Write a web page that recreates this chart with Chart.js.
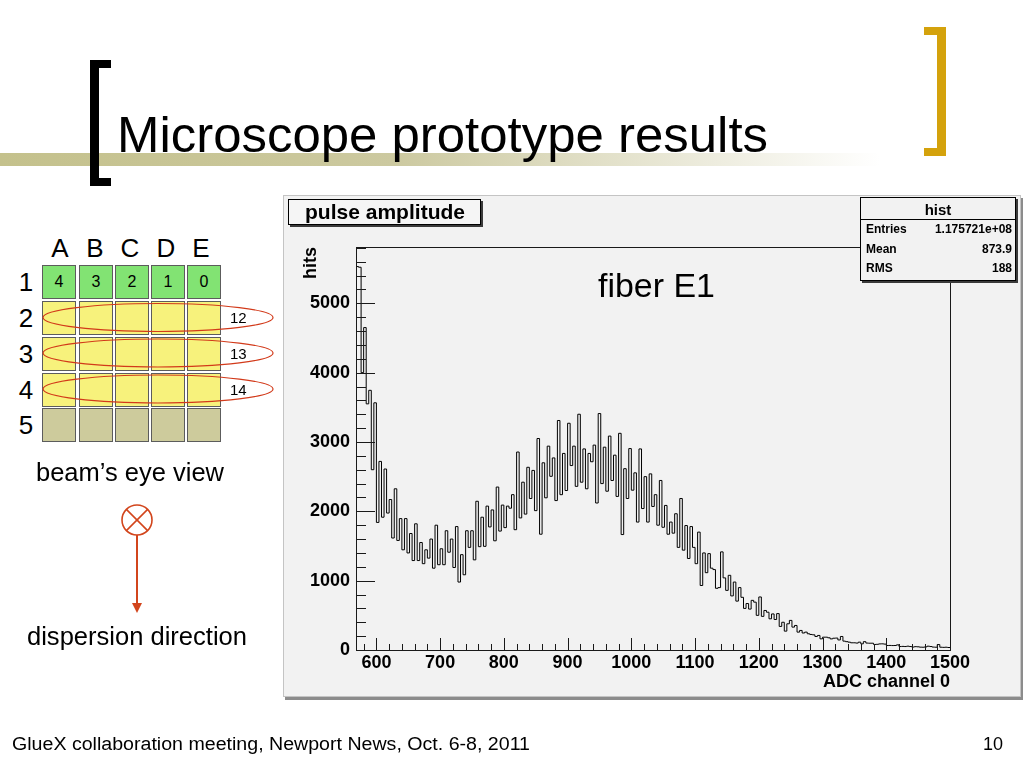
<!DOCTYPE html>
<html><head><meta charset="utf-8">
<script src="https://cdn.jsdelivr.net/npm/chart.js@4.4.0/dist/chart.umd.min.js"></script>
<style>
html,body{margin:0;padding:0;background:#fff;}
#slide{position:relative;width:1024px;height:768px;overflow:hidden;background:#fff;font-family:"Liberation Sans",Arial,sans-serif;color:#000;}
.t{position:absolute;white-space:nowrap;line-height:1;}
.r{position:absolute;}
.cell{position:absolute;width:34px;height:34px;box-sizing:border-box;border:1px solid #5c5c5c;}
#rootc{position:absolute;left:284px;top:196px;width:736px;height:500px;background:#f2f2f2;box-shadow:0 0 0 1px #c4c4c4, 2px 3px 0 1px #8c8c8c;}
#rootc canvas{position:absolute;left:0;top:0;}
</style></head><body>
<div id="slide">
  <div class="r" style="left:0;top:153px;width:880px;height:13px;background:linear-gradient(to right,#c4c18c 0%,#ccc9a0 45%,rgba(255,255,255,0) 100%);"></div>
  <div class="r" style="left:90px;top:60px;width:9px;height:126px;background:#000;"></div>
  <div class="r" style="left:90px;top:60px;width:21px;height:8px;background:#000;"></div>
  <div class="r" style="left:90px;top:178px;width:21px;height:8px;background:#000;"></div>
  <div class="r" style="left:937px;top:27px;width:9px;height:129px;background:#d4a20c;"></div>
  <div class="r" style="left:924px;top:27px;width:22px;height:8px;background:#d4a20c;"></div>
  <div class="r" style="left:924px;top:148px;width:22px;height:8px;background:#d4a20c;"></div>
  <div id="rootc"><canvas id="c" width="736" height="500"></canvas></div>
</div>
<script>
// ---- data ----
const binStart = 568;   // ADC channel of first bin's lower edge
const binWidth = 4;     // ADC channels per bin
const hits = [
5530,5520,4000,4650,3550,3745,2600,3565,1840,2720,1915,2610,1975,2170,1615,2325,1580,1895,1445,1895,
1400,1680,1290,1820,1290,1550,1245,1445,1325,1600,1180,1800,1230,1460,1230,1720,1410,1600,1190,1780,
980,1375,1085,1720,1480,1720,1300,2145,1490,1915,1495,2075,1775,2020,1575,2350,1715,2090,1765,2075,
2045,2240,1735,2855,1905,2420,1960,2635,2185,2590,2010,3050,1670,2700,2195,2940,2505,2770,2155,3310,
2240,2835,2300,3270,2660,2940,2360,3400,2420,2900,2325,2835,2715,2955,2120,3410,2400,2925,2290,3085,
2445,2810,2215,3125,1665,2615,2185,2905,2305,2555,1845,2900,2040,2500,1845,2540,2070,2240,1800,2445,
1770,2085,1670,1845,1685,1965,1480,2185,1440,1795,1320,1780,1480,1245,1700,930,1400,1115,1390,1180,
1160,890,900,1415,1040,860,1077,780,980,705,900,760,600,670,590,716,690,500,765,485,
570,545,450,520,440,525,340,400,272,378,427,330,354,258,282,245,258,234,224,219,
195,210,161,185,185,176,160,170,172,145,195,128,120,113,104,104,100,113,89,120,
100,98,98,80,82,88,89,85,65,66,64,65,74,50,52,50,55,50,42,48,
46,41,40,45,55,50,42,40,78,40,38,40,36
];
const xTickLabels = [600, 700, 800, 900, 1000, 1100, 1200, 1300, 1400, 1500];
const yTickLabels = [0, 1000, 2000, 3000, 4000, 5000];
const xMin = 568, xMax = 1500, xMajor = 100, xMinor = 20;
const yMin = 0, yMax = 5812, yMajor = 1000, yMinor = 200;
const stats = [["Entries","1.175721e+08"],["Mean","873.9"],["RMS","188"]];
const columns = ["A","B","C","D","E"];
const rows = ["1","2","3","4","5"];
const fiberNumbers = ["4","3","2","1","0"];
const rowGroups = ["12","13","14"];

// ---- slide text ----
const slide = document.getElementById('slide');
function txt(s, x, base, size, o = {}) {
  const el = document.createElement('div');
  el.className = 't'; el.textContent = s;
  el.style.fontSize = size + 'px';
  if (o.bold) el.style.fontWeight = 'bold';
  if (o.color) el.style.color = o.color;
  el.style.top = (base - 0.8465 * size) + 'px';
  slide.appendChild(el);
  const w = el.getBoundingClientRect().width;
  const sx = o.w ? o.w / w : 1;
  const ww = w * sx;
  let left = x;
  if (o.align === 'center') left = x - ww / 2;
  else if (o.align === 'right') left = x - ww;
  el.style.left = left + 'px';
  el.style.transformOrigin = '0 0';
  if (sx !== 1) el.style.transform = 'scaleX(' + sx + ')';
  return el;
}
function box(l, t, w, h, css) {
  const d = document.createElement('div');
  d.className = 'r';
  d.style.cssText += `left:${l}px;top:${t}px;width:${w}px;height:${h}px;` + css;
  slide.appendChild(d);
  return d;
}

txt('Microscope prototype results', 117, 152, 50, {w: 651});

// grid of fibers
const cx = [42, 79, 115, 151, 187];
const cy = [265, 301, 337, 373, 408];
const rowColor = ['#82e373', '#f7f27c', '#f7f27c', '#f7f27c', '#cdcb9c'];
cy.forEach((y, r) => cx.forEach((x, c) => {
  const d = document.createElement('div');
  d.className = 'cell';
  d.style.left = x + 'px'; d.style.top = y + 'px'; d.style.background = rowColor[r];
  slide.appendChild(d);
}));
const colCenters = [60, 95, 130, 166, 201];
columns.forEach((s, i) => txt(s, colCenters[i], 257, 26, {align: 'center'}));
rows.forEach((s, i) => txt(s, 26, cy[i] + 17 + 9.3, 26, {align: 'center'}));
fiberNumbers.forEach((s, i) => txt(s, cx[i] + 17, 288, 16, {align: 'center'}));

// svg decorations
const NS = 'http://www.w3.org/2000/svg';
const svg = document.createElementNS(NS, 'svg');
svg.setAttribute('width', 1024); svg.setAttribute('height', 768);
svg.style.cssText = 'position:absolute;left:0;top:0;pointer-events:none;';
function sv(tag, attrs) { const e = document.createElementNS(NS, tag); for (const k in attrs) e.setAttribute(k, attrs[k]); svg.appendChild(e); return e; }
[317.5, 353, 389].forEach(y => sv('ellipse', {cx: 158, cy: y, rx: 115, ry: 14, fill: 'none', stroke: '#d23a1a', 'stroke-width': 1.2}));
sv('circle', {cx: 137, cy: 520, r: 15, fill: 'none', stroke: '#d2451c', 'stroke-width': 1.6});
sv('line', {x1: 126.4, y1: 509.4, x2: 147.6, y2: 530.6, stroke: '#d2451c', 'stroke-width': 1.6});
sv('line', {x1: 147.6, y1: 509.4, x2: 126.4, y2: 530.6, stroke: '#d2451c', 'stroke-width': 1.6});
sv('line', {x1: 137, y1: 535, x2: 137, y2: 604, stroke: '#d2451c', 'stroke-width': 2});
sv('polygon', {points: '132,603 142,603 137,613', fill: '#d2451c'});
slide.appendChild(svg);

[317.5, 353, 389].forEach((y, i) => txt(rowGroups[i], 230, y + 5.5, 15));
txt("beam\u2019s eye view", 36, 481, 25, {w: 188});
txt('dispersion direction', 27, 645, 25, {w: 220});
txt('GlueX collaboration meeting, Newport News, Oct. 6-8, 2011', 12, 750, 18, {w: 518});
txt('10', 1003, 750, 18, {align: 'right'});

// ROOT pad overlays
box(288, 199, 193, 26, 'box-sizing:border-box;border:1px solid #000;background:#f5f5f5;box-shadow:2px 2px 0 #3a3a3a;');
txt('pulse amplitude', 384.5, 218.5, 21, {bold: true, align: 'center', w: 160});
box(860, 197, 156, 84, 'box-sizing:border-box;border:1px solid #000;background:#f2f2f2;box-shadow:2px 2px 0 #3a3a3a;');
box(860, 219, 156, 1, 'background:#000;');
txt('hist', 938, 214.5, 15, {bold: true, align: 'center'});
const statY = [233.5, 253, 272];
stats.forEach((s, i) => {
  txt(s[0], 866, statY[i], 12, {bold: true});
  txt(s[1], 1012, statY[i], 12, {bold: true, align: 'right'});
});
txt('fiber E1', 598, 297, 33, {w: 117});

// ---- chart ----
const points = hits.map((v, i) => ({x: binStart + i * binWidth, y: v}));
points.push({x: binStart + hits.length * binWidth, y: hits[hits.length - 1]});

const rootFrame = {
  id: 'rootFrame',
  afterDatasetsDraw(chart) {
    const {ctx, chartArea: a, scales: {x, y}} = chart;
    ctx.save();
    ctx.strokeStyle = '#1a1a1a'; ctx.lineWidth = 1;
    ctx.beginPath();
    const first = Math.ceil(xMin / xMinor) * xMinor;
    for (let v = first; v <= xMax; v += xMinor) {
      const px = Math.round(x.getPixelForValue(v)) + 0.5;
      const len = (v % xMajor === 0) ? 12 : 6;
      ctx.moveTo(px, a.bottom); ctx.lineTo(px, a.bottom - len);
    }
    for (let v = yMin; v <= yMax; v += yMinor) {
      const py = Math.round(y.getPixelForValue(v)) + 0.5;
      const len = (v % yMajor === 0) ? 19 : 10;
      ctx.moveTo(a.left, py); ctx.lineTo(a.left + len, py);
    }
    ctx.stroke();
    ctx.strokeRect(Math.round(a.left) + 0.5, Math.round(a.top) + 0.5, Math.round(a.right - a.left), Math.round(a.bottom - a.top));
    ctx.restore();
  }
};

const tickFont = {family: '"Liberation Sans", Arial, sans-serif', size: 18, weight: 'bold'};
new Chart(document.getElementById('c'), {
  type: 'line',
  data: {datasets: [{
    data: points, stepped: 'before', borderColor: '#000', borderWidth: 1,
    pointRadius: 0, fill: false, tension: 0
  }]},
  options: {
    responsive: false, animation: false, devicePixelRatio: 1,
    layout: {padding: {left: 0, top: 51, right: 70, bottom: 0}},
    plugins: {legend: {display: false}, tooltip: {enabled: false}, title: {display: false}},
    scales: {
      x: {
        type: 'linear', min: xMin, max: xMax,
        grid: {display: false, drawTicks: false}, border: {display: false},
        ticks: {autoSkip: false, maxRotation: 0, font: tickFont, color: '#000', padding: 2,
                callback: v => String(v)},
        afterBuildTicks: s => { s.ticks = xTickLabels.map(v => ({value: v})); },
        title: {display: true, text: 'ADC channel 0', align: 'end', color: '#000', font: tickFont, padding: {top: 0, bottom: 3}},
        afterFit: s => { s.height = 46; }
      },
      y: {
        type: 'linear', min: yMin, max: yMax,
        grid: {display: false, drawTicks: false}, border: {display: false},
        ticks: {autoSkip: false, font: tickFont, color: '#000', padding: 6,
                callback: v => String(v)},
        afterBuildTicks: s => { s.ticks = yTickLabels.map(v => ({value: v})); },
        title: {display: true, text: 'hits', align: 'end', color: '#000', font: tickFont, padding: {top: 16, bottom: 0}},
        afterFit: s => { s.width = 72; }
      }
    }
  },
  plugins: [rootFrame]
});
</script>
</body></html>
